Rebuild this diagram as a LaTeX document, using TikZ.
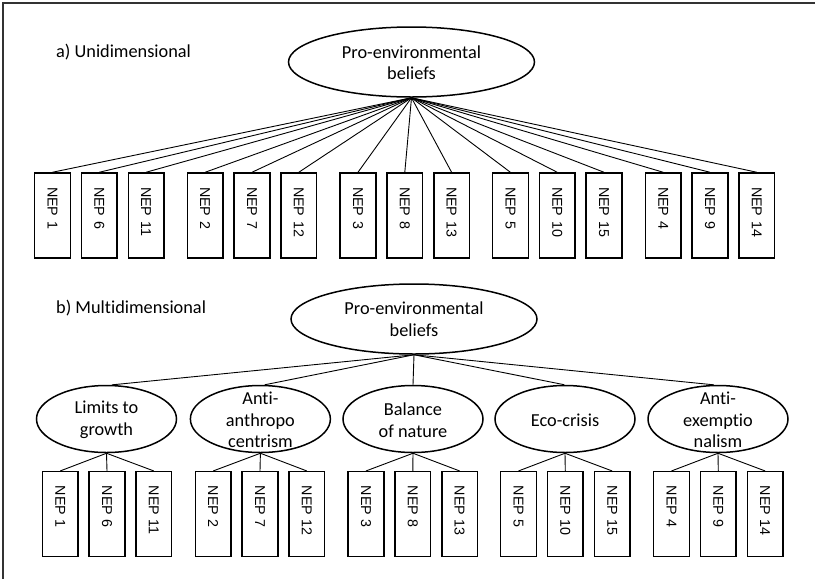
\documentclass[tikz,border=0pt]{standalone}
\usepackage{fontspec}
\newfontfamily\calib[Ligatures=NoCommon]{Carlito}
\newfontfamily\arialf{Liberation Sans}
\usetikzlibrary{shapes.geometric}
\tikzset{
  nepbox/.style={draw, line width=1.5pt, rotate=-90, minimum width=85pt, minimum height=35.7pt,
    text width=57pt, inner xsep=14pt, inner ysep=0pt, align=left,
    font={\arialf\fontsize{14.3}{16}\selectfont}},
  bigell/.style={ellipse, draw, line width=1.5pt, minimum width=246pt, minimum height=70pt, inner sep=0pt},
  subell/.style={ellipse, draw, line width=1.5pt, minimum width=140pt, minimum height=67pt, inner sep=0pt},
  elltext/.style={align=center, inner sep=0pt, font={\calib\fontsize{18.3}{21.5}\selectfont}},
  title/.style={anchor=west, inner sep=0pt, font={\calib\fontsize{18.3}{21.5}\selectfont}},
  conn/.style={line width=0.9pt},
}
\begin{document}
\begin{tikzpicture}[x=1pt,y=-1pt]
\useasboundingbox (0,0) rectangle (815,579);
\draw[line width=1.5pt, black!80] (815,3) -- (3,3) -- (3,579);

% a) Unidimensional
\node[title] (ta) at (56,52) {a) Unidimensional};
\node[bigell] (top) at (411.5,62) {};
\node[elltext] (toptxt) at (411.5,62.5) {Pro-environmental\\beliefs};
\foreach \n/\x in {1/52.5, 6/99.3, 11/146.1, 2/205.2, 7/252.0, 12/298.8,
                   3/358.0, 8/404.8, 13/451.6, 5/510.4, 10/557.2, 15/604.0,
                   4/663.2, 9/710.0, 14/756.8} {
  \node[nepbox] (u\n) at (\x,215.5) {NEP \n};
  \draw[conn] (top.south) -- (u\n.west);
}

% b) Multidimensional
\node[title] (tb) at (56,308) {b) Multidimensional};
\node[bigell] (big) at (414,319) {};
\node[elltext] (bigtxt) at (414,319) {Pro-environmental\\beliefs};

\node[subell] (s1) at (106.5,419) {};
\node[elltext] (s1t) at (106.5,420) {Limits to\\growth};
\node[subell] (s2) at (260.4,419) {};
\node[elltext] (s2t) at (260.4,420) {Anti-\\anthropo\\centrism};
\node[subell] (s3) at (413,419) {};
\node[elltext] (s3t) at (413,420) {Balance\\of nature};
\node[subell] (s4) at (565,419) {};
\node[elltext] (s4t) at (565,420) {Eco-crisis};
\node[subell] (s5) at (718,419) {};
\node[elltext] (s5t) at (718,420) {Anti-\\exemptio\\nalism};

\foreach \s/\a in {s1/81, s2/83, s3/90, s4/91, s5/97} {
  \draw[conn] (big.south) -- (\s.\a);
}

\foreach \n/\x/\s in {1/60.2/s1, 6/107.0/s1, 11/153.8/s1,
                      2/213.2/s2, 7/260.0/s2, 12/306.8/s2,
                      3/366.0/s3, 8/412.8/s3, 13/459.6/s3,
                      5/518.5/s4, 10/565.3/s4, 15/612.1/s4,
                      4/671.5/s5, 9/718.3/s5, 14/765.1/s5} {
  \node[nepbox] (m\n) at (\x,514.2) {NEP \n};
  \draw[conn] (\s.south) -- (m\n.west);
}
\end{tikzpicture}
\end{document}
